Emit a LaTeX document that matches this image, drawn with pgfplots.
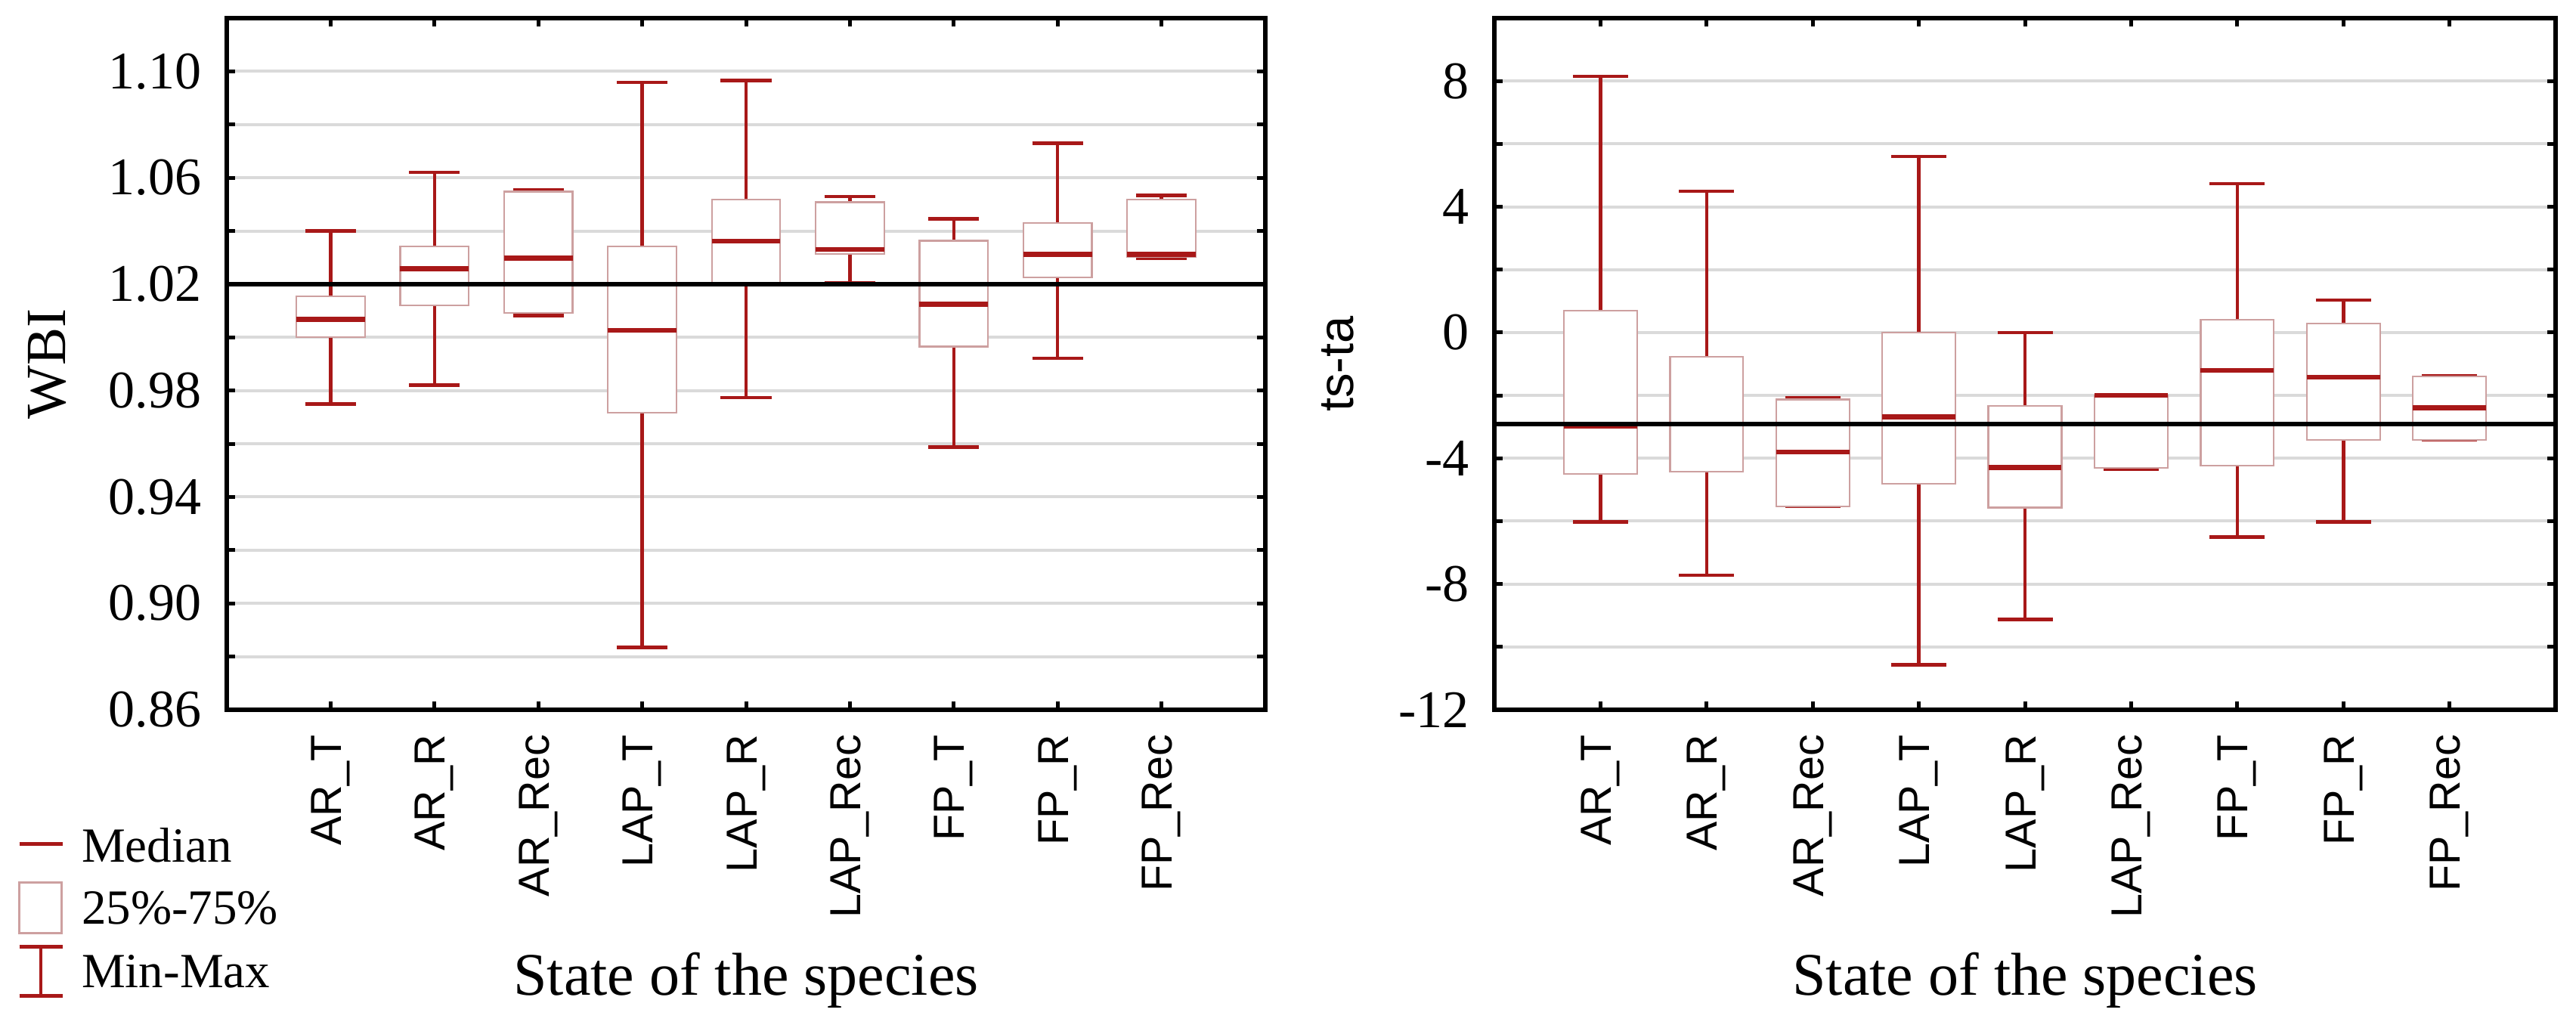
\documentclass[border=0pt]{standalone}
\usepackage{pgfplots}
\pgfplotsset{compat=1.18}
\usepgfplotslibrary{statistics}
\usepackage{fontspec}
\setmainfont{Liberation Serif}
\newfontfamily\sansf{Liberation Sans}

\definecolor{medred}{RGB}{168,24,24}
\definecolor{boxedge}{RGB}{205,160,160}
\definecolor{gridgray}{RGB}{218,218,218}

% one prepared box: position, min, q1, median, q3, max
\newcommand\bx[6]{\addplot[forget plot, boxplot prepared={draw position=#1,
  lower whisker=#2, lower quartile=#3, median=#4, upper quartile=#5,
  upper whisker=#6}] coordinates {};}

\pgfplotsset{
  panel/.style={
    anchor=south west, scale only axis,
    xmin=0, xmax=10,
    xtick={1,...,9},
    xticklabels={AR\_T,AR\_R,AR\_Rec,LAP\_T,LAP\_R,LAP\_Rec,FP\_T,FP\_R,FP\_Rec},
    xticklabel style={font=\sansf\fontsize{11.5}{13}\selectfont, rotate=90, anchor=east, inner sep=0pt},
    xticklabel shift=6.4pt,
    yticklabel style={font=\fontsize{14}{16}\selectfont, inner sep=0pt},
    yticklabel shift=6.5pt,
    tick align=inside,
    major tick length=2.2pt, minor tick length=2.2pt,
    tick style={black, line width=1pt},
    minor tick style={black, line width=1pt},
    axis line style={line width=1.1pt},
    ymajorgrids, yminorgrids,
    major grid style={gridgray, line width=0.8pt},
    minor grid style={gridgray, line width=0.8pt},
    xlabel={State of the species},
    xlabel style={font=\fontsize{16}{18}\selectfont, at={(axis description cs:0.5,0)}, anchor=base, yshift=-75.6pt, inner sep=0pt},
    boxplot/draw direction=y,
    boxplot/every box/.style={draw=boxedge, line width=0.45pt, fill=white},
    boxplot/every whisker/.style={draw=medred, line width=0.9pt},
    boxplot/every median/.style={draw=medred, line width=1.3pt},
  },
}

\begin{document}
\begin{tikzpicture}
\path[use as bounding box] (0pt,0pt) rectangle (681.6pt,272pt);

% ---- WBI ----
\begin{axis}[panel,
  at={(60pt,84.2pt)}, width=274.8pt, height=183pt,
  ymin=0.86, ymax=1.12,
  ytick={0.86,0.90,0.94,0.98,1.02,1.06,1.10},
  yticklabels={0.86,0.90,0.94,0.98,1.02,1.06,1.10},
  minor ytick={0.88,0.92,0.96,1.00,1.04,1.08,1.12},
  ylabel={WBI},
  ylabel style={font=\fontsize{15}{17}\selectfont, at={(axis description cs:-0.1536,0.5)}, anchor=south, inner sep=0pt},
  boxplot/box extend=0.66, boxplot/whisker extend=0.49,
  legend style={draw=none, fill=none, at={(axis description cs:-0.2016,-0.1596)}, anchor=north west,
    inner sep=0pt, outer sep=0pt, font=\fontsize{13}{15}\selectfont,
    cells={anchor=west}, nodes={inner sep=0pt, text height=11pt, text depth=2.4pt},
    row sep=2.8pt, column sep=4.6pt},
  legend cell align=left,
]
\addlegendimage{legend image code/.code={
  \path[draw=none, fill=none] (0pt,-6.7pt) rectangle (11.4pt,6.7pt);
  \draw[medred, line width=1pt] (0pt,0.5pt) -- (11.4pt,0.5pt);}}
\addlegendentry{Median}
\addlegendimage{legend image code/.code={
  \draw[boxedge, line width=0.6pt, fill=white] (0pt,-6.7pt) rectangle (11.2pt,6.7pt);}}
\addlegendentry{25\%-75\%}
\addlegendimage{legend image code/.code={
  \draw[medred, line width=0.9pt] (0pt,-6.5pt) -- (11.4pt,-6.5pt) (5.7pt,-6.5pt) -- (5.7pt,6.5pt) (0pt,6.5pt) -- (11.4pt,6.5pt);}}
\addlegendentry{Min-Max}

\bx{1}{0.9749}{1.0000}{1.0068}{1.0155}{1.0400}
\bx{2}{0.9820}{1.0120}{1.0258}{1.0341}{1.0620}
\bx{3}{1.0082}{1.0091}{1.0298}{1.0548}{1.0555}
\bx{4}{0.8835}{0.9717}{1.0026}{1.0341}{1.0958}
\bx{5}{0.9773}{1.0202}{1.0361}{1.0519}{1.0966}
\bx{6}{1.0205}{1.0314}{1.0330}{1.0508}{1.0529}
\bx{7}{0.9588}{0.9965}{1.0124}{1.0363}{1.0446}
\bx{8}{0.9921}{1.0225}{1.0312}{1.0430}{1.0729}
\bx{9}{1.0298}{1.0303}{1.0312}{1.0519}{1.0533}
% reference level across the panel
\addplot[forget plot, black, line width=1.3pt] coordinates {(0,1.02) (10,1.02)};
\end{axis}

% ---- ts-ta ----
\begin{axis}[panel,
  at={(395.4pt,84.2pt)}, width=280.8pt, height=183pt,
  ymin=-12, ymax=10,
  ytick={-12,-8,-4,0,4,8},
  yticklabels={-12,-8,-4,0,4,8},
  minor ytick={-10,-6,-2,2,6,10},
  ylabel={ts-ta},
  ylabel style={font=\sansf\fontsize{13}{15}\selectfont, at={(axis description cs:-0.1318,0.5)}, anchor=south, inner sep=0pt},
  boxplot/box extend=0.69, boxplot/whisker extend=0.52,
]
\bx{1}{-6.03}{-4.49}{-2.97}{0.69}{8.15}
\bx{2}{-7.72}{-4.43}{-2.91}{-0.78}{4.49}
\bx{3}{-5.53}{-5.53}{-3.80}{-2.13}{-2.08}
\bx{4}{-10.57}{-4.82}{-2.68}{0.00}{5.60}
\bx{5}{-9.13}{-5.57}{-4.30}{-2.34}{0.00}
\bx{6}{-4.35}{-4.30}{-2.00}{-1.99}{-1.98}
\bx{7}{-6.51}{-4.23}{-1.21}{0.40}{4.73}
\bx{8}{-6.03}{-3.41}{-1.42}{0.28}{1.03}
\bx{9}{-3.41}{-3.41}{-2.40}{-1.39}{-1.39}
% reference level across the panel
\addplot[forget plot, black, line width=1.3pt] coordinates {(0,-2.91) (10,-2.91)};
\end{axis}
\end{tikzpicture}
\end{document}
